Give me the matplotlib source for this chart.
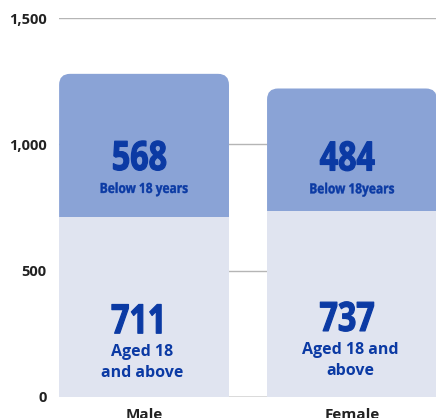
import matplotlib
matplotlib.use("Agg")
import matplotlib.pyplot as plt
from matplotlib.patches import FancyBboxPatch
from matplotlib.patheffects import AbstractPathEffect
from matplotlib.transforms import Affine2D

categories = ["Male", "Female"]
adults = [711, 737]
minors = [568, 484]
adult_labels = ["Aged 18\nand above", "Aged 18 and\nabove"]
minor_labels = ["Below 18 years", "Below 18years"]
yticks = [0, 500, 1000, 1500]
ytick_labels = ["0", "500", "1,000", "1,500"]

TOP_C = "#8aa3d6"
BOT_C = "#e0e4f0"
TXT_C = "#0b3aa4"


class Squeeze(AbstractPathEffect):
    """Horizontally condense (and optionally embolden) glyphs about the text centre."""
    def __init__(self, sx, lw=0.0):
        super().__init__()
        self.sx = sx
        self.lw = lw

    def draw_path(self, renderer, gc, tpath, affine, rgbFace=None):
        ext = tpath.get_extents()
        cx = (ext.x0 + ext.x1) / 2
        t = Affine2D().translate(-cx, 0).scale(self.sx, 1).translate(cx, 0) + affine
        if self.lw > 0:
            gc0 = renderer.new_gc()
            gc0.copy_properties(gc)
            gc0.set_linewidth(self.lw)
            gc0.set_foreground(rgbFace)
            gc0.set_joinstyle("round")
            renderer.draw_path(gc0, tpath, t, rgbFace)
            gc0.restore()
        else:
            renderer.draw_path(gc, tpath, t, rgbFace)


fig = plt.figure(figsize=(4.36, 4.18), dpi=100)
ax = fig.add_axes([59/436, 21/418, 377/436, 379/418])

x = list(range(len(categories)))
width = 0.817

ax.bar(x, adults, width=width, color=BOT_C, zorder=3)

rad_px = 11
px_per_x = 208.0
px_per_y = 379 / 1500
for xi, b, v in zip(x, adults, minors):
    rx = rad_px / px_per_x
    ry = rad_px / px_per_y
    patch = FancyBboxPatch((xi - width / 2, b - 60), width, v + 60,
                           boxstyle=f"round,pad=0,rounding_size={rx}",
                           mutation_aspect=ry / rx,
                           facecolor=TOP_C, edgecolor="none", zorder=2)
    ax.add_patch(patch)

lab_font = ["Open Sans", "DejaVu Sans"]
num_fx = [Squeeze(0.8, 0.9)]
sub_fx = [Squeeze(0.86, 0.3)]

for xi, b, v, lab in zip(x, adults, minors, minor_labels):
    yn = b + 0.33 * v
    ax.annotate(str(v), (xi, yn), xytext=(-3.5, 0), textcoords="offset points",
                ha="center", va="baseline", fontsize=29,
                fontweight="bold", color=TXT_C, family=lab_font, zorder=5,
                path_effects=num_fx)
    ax.annotate(lab, (xi, yn), xytext=(0, -16.5), textcoords="offset points",
                ha="center", va="baseline", fontsize=10, fontweight="bold",
                color=TXT_C, family=lab_font, zorder=5, path_effects=sub_fx)

for xi, b, lab in zip(x, adults, adult_labels):
    yn = 0.355 * b
    ax.annotate(str(b), (xi, yn), xytext=(-3.5, 0), textcoords="offset points",
                ha="center", va="baseline", fontsize=29,
                fontweight="bold", color=TXT_C, family=lab_font, zorder=5,
                path_effects=num_fx)
    ax.annotate(lab, (xi, yn), xytext=(-1.5, -31.7), textcoords="offset points",
                ha="center", va="baseline", fontsize=11.5, fontweight="bold",
                color=TXT_C, family=lab_font, linespacing=1.45, zorder=5,
                multialignment="center")

ax.set_xlim(-0.409, 1.404)
ax.set_ylim(0, 1500)
ax.set_yticks(yticks)
ax.set_yticklabels(ytick_labels, fontsize=10.5, fontweight="bold",
                   color="#222222", family=lab_font)
ax.set_xticks(x)
ax.set_xticklabels(categories, fontsize=11, fontweight="bold",
                   color="#222222", family=lab_font)
ax.tick_params(axis="both", length=0)
ax.tick_params(axis="y", pad=9)
ax.tick_params(axis="x", pad=8)
for s in ax.spines.values():
    s.set_visible(False)
ax.grid(axis="y", color="#b5b5b5", linewidth=1, zorder=0)
ax.set_axisbelow(True)
ax.axhline(0, color="#888888", linewidth=1, zorder=1)

fig.savefig("out.png", dpi=100)
